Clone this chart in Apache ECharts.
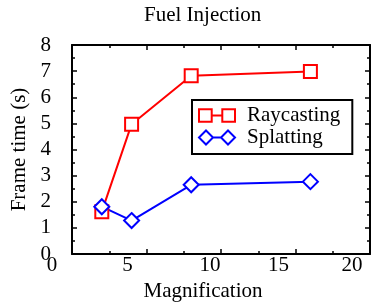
<!DOCTYPE html>
<html>
<head>
<meta charset="utf-8">
<script src="https://cdn.jsdelivr.net/npm/echarts@6/dist/echarts.min.js"></script>
<style>
  html, body { margin: 0; padding: 0; background: #fff; }
  #chart { width: 376px; height: 307px; }
</style>
</head>
<body>
<div id="chart"></div>
<script>
const magnification = [2, 4, 8, 16];
const raycasting = [1.62, 4.97, 6.82, 6.99];
const splatting = [1.81, 1.28, 2.65, 2.77];
const seriesNames = ["Raycasting", "Splatting"];
const xTicks = [0, 5, 10, 15, 20];

const FONT = "Liberation Serif";
const FS = 21;
// the x tick labels in the source sit a little left of their ticks
const xLabelShift = { 0: 40, 5: 38, 10: 22, 15: 34, 20: 36 };

function mirrorAxis(extra) {
  return {
    type: "value",
    axisLine: { show: true, onZero: false, lineStyle: { color: "#000", width: 2 } },
    axisTick: { show: true, inside: true, length: 5, lineStyle: { color: "#000", width: 1.5 } },
    minorTick: { show: true, splitNumber: 2, length: 3, lineStyle: { color: "#000", width: 1.5 } },
    splitLine: { show: false },
    minorSplitLine: { show: false },
    ...extra,
  };
}

const rich = {};
xTicks.forEach((t) => {
  rich["o" + t] = { fontFamily: FONT, fontSize: FS, color: "#000", padding: [0, xLabelShift[t], 0, 0] };
});

const chart = echarts.init(document.getElementById("chart"), null, { renderer: "canvas" });
chart.setOption({
  animation: false,
  backgroundColor: "#fff",
  textStyle: { fontFamily: FONT },
  title: {
    text: "Fuel Injection",
    left: 144,
    top: 5,
    padding: 0,
    textStyle: { fontFamily: FONT, fontSize: FS, fontWeight: "normal", color: "#000" },
  },
  grid: { left: 72, right: 6, top: 45, bottom: 53 },
  legend: {
    orient: "vertical",
    left: 192,
    top: 100,
    padding: [5, 12, 6, 6],
    itemGap: 1,
    itemWidth: 36,
    itemHeight: 14,
    borderColor: "#000",
    borderWidth: 2,
    backgroundColor: "#fff",
    textStyle: { fontFamily: FONT, fontSize: FS, color: "#000", lineHeight: 21, padding: [0, 0, 0, 7] },
    data: [
      {
        name: seriesNames[0],
        icon: "path://M1 1H13V13H1Z M13 7H23 M23 1H35V13H23Z",
        itemStyle: { color: "#fff", borderColor: "#ff0000", borderWidth: 2 },
      },
      {
        name: seriesNames[1],
        icon: "path://M7 0L14 7L7 14L0 7Z M14 7H22 M29 0L36 7L29 14L22 7Z",
        itemStyle: { color: "#fff", borderColor: "#0000ff", borderWidth: 2 },
      },
    ],
  },
  xAxis: [
    mirrorAxis({
      min: 0,
      max: 20,
      interval: 5,
      position: "bottom",
      name: "Magnification",
      nameLocation: "middle",
      nameGap: 19,
      nameTextStyle: { fontFamily: FONT, fontSize: FS, color: "#000", padding: [0, 36, 0, 0] },
      axisLabel: {
        margin: 1,
        fontFamily: FONT,
        fontSize: FS,
        color: "#000",
        formatter: (v) => `{o${v}|${v}}`,
        rich,
      },
    }),
    mirrorAxis({ min: 0, max: 20, interval: 5, position: "top", axisLabel: { show: false } }),
  ],
  yAxis: [
    mirrorAxis({
      min: 0,
      max: 8,
      interval: 1,
      position: "left",
      name: "Frame time (s)",
      nameLocation: "middle",
      nameGap: 42,
      nameTextStyle: { fontFamily: FONT, fontSize: FS, color: "#000" },
      axisLabel: { margin: 21, fontFamily: FONT, fontSize: FS, color: "#000" },
    }),
    mirrorAxis({ min: 0, max: 8, interval: 1, position: "right", axisLabel: { show: false } }),
  ],
  series: [
    {
      name: seriesNames[0],
      type: "line",
      data: magnification.map((m, i) => [m, raycasting[i]]),
      symbol: "rect",
      symbolSize: 13,
      lineStyle: { color: "#ff0000", width: 2 },
      itemStyle: { color: "#fff", borderColor: "#ff0000", borderWidth: 2 },
    },
    {
      name: seriesNames[1],
      type: "line",
      data: magnification.map((m, i) => [m, splatting[i]]),
      symbol: "diamond",
      symbolSize: 15,
      lineStyle: { color: "#0000ff", width: 2 },
      itemStyle: { color: "#fff", borderColor: "#0000ff", borderWidth: 2 },
    },
  ],
});
</script>
</body>
</html>
